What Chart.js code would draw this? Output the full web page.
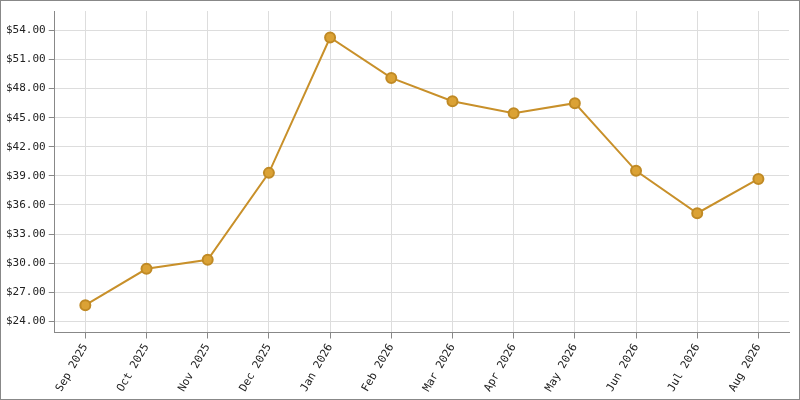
<!DOCTYPE html><html><head><style>body{margin:0}#w{width:798px;height:398px;border:1px solid #888}</style>
<script src="https://cdn.jsdelivr.net/npm/chart.js@4"></script></head><body><div id="w"><canvas id="c"></canvas></div><script>
const categories=["Sep 2025","Oct 2025","Nov 2025","Dec 2025","Jan 2026","Feb 2026","Mar 2026","Apr 2026","May 2026","Jun 2026","Jul 2026","Aug 2026"];
const prices=[25.67,29.42,30.35,39.31,53.27,49.1,46.7,45.46,46.5,39.52,35.15,38.69];
Chart.defaults.font.family="DejaVu Sans Mono";Chart.defaults.font.size=11;Chart.defaults.color="#222";
new Chart(document.getElementById('c'),{type:'line',data:{labels:categories,datasets:[{data:prices,borderColor:'#c8902a',borderWidth:2,backgroundColor:'#dba235',pointBorderColor:'#c08a25',pointRadius:5,pointHoverRadius:5,tension:0}]},
options:{responsive:true,maintainAspectRatio:false,animation:false,layout:{padding:{top:10,right:10,left:2,bottom:2}},plugins:{legend:{display:false},tooltip:{enabled:false}},
scales:{x:{offset:true,grid:{offset:false,color:'#ddd',tickColor:'#888',tickLength:6},border:{color:'#888'},ticks:{maxRotation:60,minRotation:60}},
y:{min:22.85,max:56,afterBuildTicks:a=>{a.ticks=[];for(let v=24;v<=54;v+=3)a.ticks.push({value:v});},grid:{color:'#ddd',tickColor:'#888',tickLength:6},border:{color:'#888'},ticks:{callback:v=>'$'+v.toFixed(2)}}}}});
</script></body></html>
